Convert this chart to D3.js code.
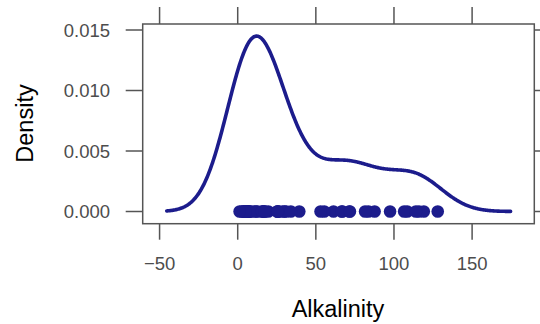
<!DOCTYPE html>
<html><head><meta charset="utf-8">
<script src="https://cdn.jsdelivr.net/npm/d3@7"></script>
<style>body{margin:0;background:#fff}svg{display:block}text{font-family:"Liberation Sans",Arial,sans-serif}</style>
</head><body><svg id="c" width="540" height="324"></svg>
<script>
// Observed Alkalinity values (53 lakes)
const alkalinity = [5.9,3.5,116.0,39.4,2.5,19.6,5.2,71.4,26.4,4.8,6.6,16.5,25.4,7.1,128.0,83.7,108.5,61.3,6.4,31.0,7.5,17.3,12.6,7.0,10.5,30.0,55.4,3.9,5.5,6.3,67.0,28.8,5.8,4.5,119.1,25.4,106.5,53.0,8.5,87.6,114.0,97.5,11.8,66.5,16.0,5.0,81.5,1.2,34.0,15.5,25.6,17.3,71.8];
const xTicks = [-50,0,50,100,150];
const yTicks = [0,0.005,0.010,0.015];
const yTickLabels = ["0.000","0.005","0.010","0.015"];
const xTitle = "Alkalinity", yTitle = "Density";

const col = "#1c1c8c";
const svg = d3.select("#c");
const L = 142.7, R = 534.3, T = 24, B = 223.7;
const x = d3.scaleLinear().domain([-60.8,189.8]).range([L,R]);
const y = d3.scaleLinear().domain([-0.001008,0.015496]).range([B,T]);

// Gaussian kernel density (bw.nrd0, cut = 3)
const n = alkalinity.length;
const sorted = alkalinity.slice().sort(d3.ascending);
const sd = d3.deviation(alkalinity);
const iqr = d3.quantileSorted(sorted,0.75) - d3.quantileSorted(sorted,0.25);
const bw = 0.9*Math.min(sd, iqr/1.34)*Math.pow(n,-0.2);
const lo = d3.min(alkalinity)-3*bw, hi = d3.max(alkalinity)+3*bw;
const grid = d3.range(512).map(i => lo + (hi-lo)*i/511);
const dens = grid.map(g => [g, d3.sum(alkalinity, v => Math.exp(-0.5*((g-v)/bw)**2))/(n*bw*Math.sqrt(2*Math.PI))]);

const axCol = "#555";
svg.append("rect").attr("x",L).attr("y",T).attr("width",R-L).attr("height",B-T)
  .attr("fill","none").attr("stroke",axCol).attr("stroke-width",1.5);

const g = svg.append("g").attr("stroke",axCol).attr("stroke-width",1.5);
xTicks.forEach(t => {
  g.append("line").attr("x1",x(t)).attr("x2",x(t)).attr("y1",B).attr("y2",B+16);
  g.append("line").attr("x1",x(t)).attr("x2",x(t)).attr("y1",T).attr("y2",T-17);
});
yTicks.forEach(t => {
  g.append("line").attr("y1",y(t)).attr("y2",y(t)).attr("x1",L).attr("x2",L-17);
  g.append("line").attr("y1",y(t)).attr("y2",y(t)).attr("x1",R).attr("x2",R+17);
});
svg.selectAll(".xl").data(xTicks).enter().append("text")
  .attr("x",d=>x(d)).attr("y",270).attr("text-anchor","middle")
  .attr("font-size",18.5).attr("fill","#4d4d4d").text(d=>d<0?"\u2212"+Math.abs(d):d);
svg.selectAll(".yl").data(yTicks).enter().append("text")
  .attr("x",110).attr("y",d=>y(d)).attr("dy","0.36em").attr("text-anchor","end")
  .attr("font-size",18.5).attr("fill","#4d4d4d").text((d,i)=>yTickLabels[i]);

svg.append("text").attr("x",338).attr("y",316.5).attr("text-anchor","middle")
  .attr("font-size",23.5).attr("fill","#000").text(xTitle);
svg.append("text").attr("transform","translate(32.5,123.5) rotate(-90)").attr("text-anchor","middle")
  .attr("font-size",23.5).attr("fill","#000").text(yTitle);

svg.append("path").datum(dens)
  .attr("d", d3.line().x(d=>x(d[0])).y(d=>y(d[1])))
  .attr("fill","none").attr("stroke",col).attr("stroke-width",3.6).attr("stroke-linejoin","round").attr("stroke-linecap","round");

svg.selectAll(".pt").data(alkalinity).enter().append("circle")
  .attr("cx",d=>x(d)).attr("cy",y(0)).attr("r",6.3).attr("fill",col);
</script></body></html>
